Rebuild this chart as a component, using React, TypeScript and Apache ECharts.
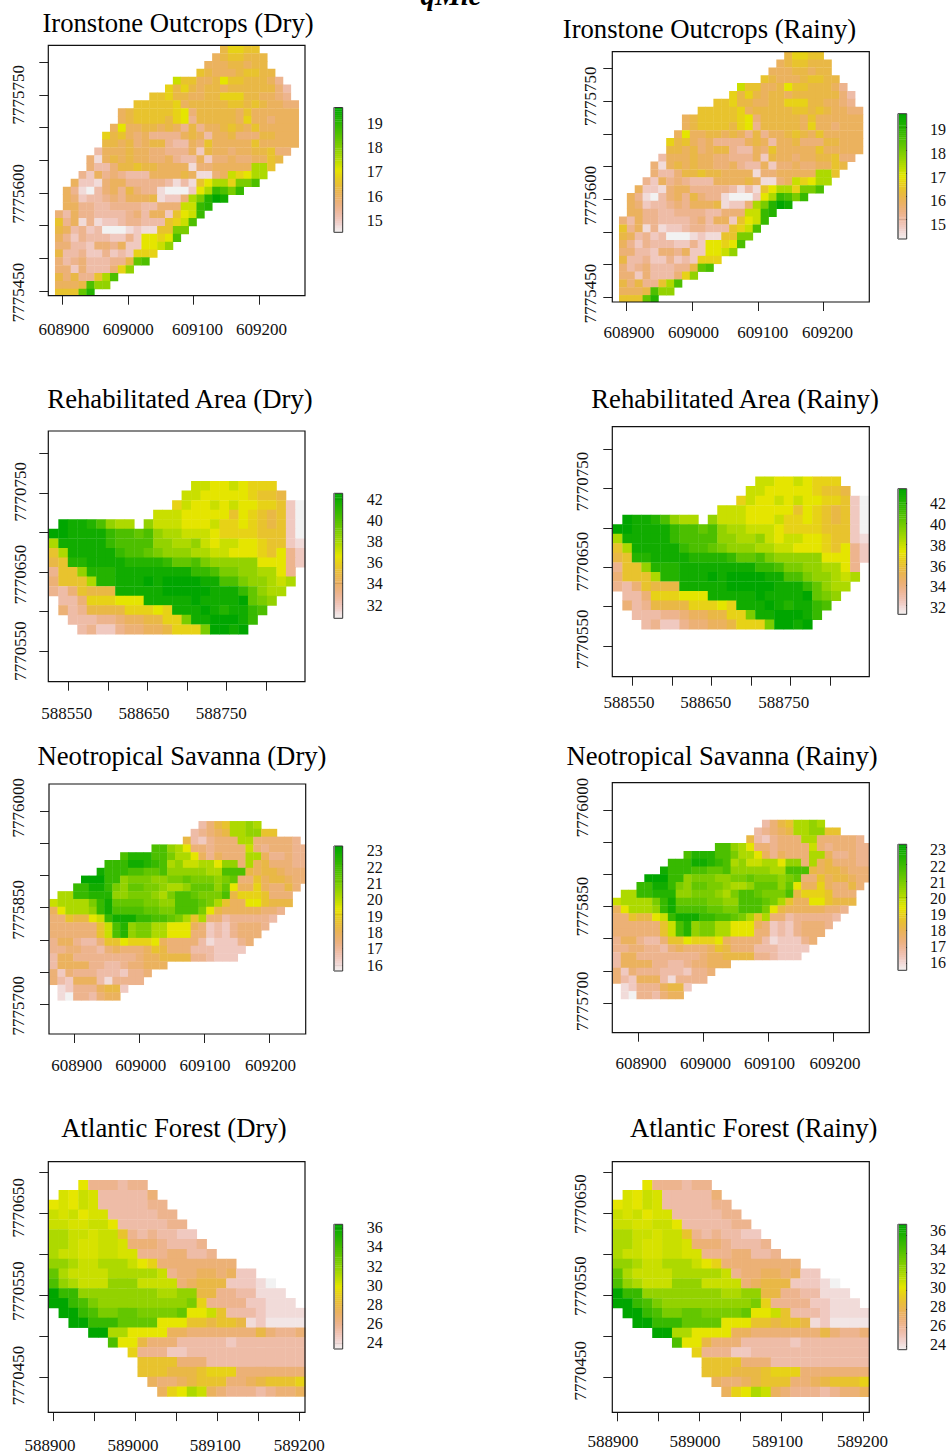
import React, { useEffect, useRef } from "react";
import * as echarts from "echarts";

// Cell values. Each row: "<first column> <one code per cell>", top row first.
// A code is a position on the legend ramp, 0..9 then a..k = 0%..100% of the legend range
// (x = 52.5%, y = 2.5%); "." is no data.
const ironstoneRows = [
  "21 79988", "20 6788777", "19 66677677", "18 8766678877", "15 b88667a8877764",
  "14 9797677677777753", "12 889776677999776654", "10 888889677777887876655",
  "8 67888889a57777768666666", "8 67888879a47777769665666", "7 6a6677676474667876866666",
  "6 9786564444676366755577666", "6 7767567743365866666866666", "5 3666766554446276656677855",
  "4 5167676655643362556556687", "4 533577877666615566666cc8", "3 4264543336666761156b9acc",
  "2 62215664444431318acc9eeg", "1 64103564754410002achgeh", "1 6523345466671225ceikj",
  "1 664433444433555bbhi", "0 5364433334536628abh", "0 8461412234433389bg",
  "0 763423000121188ee", "0 64243332242aa9ag", "0 55332554622aabd", "0 7334224232999",
  "0 5345333447fg", "0 552533359d", "0 757448cg", "0 6667gdd", "0 888fi",
];
const rehabRows = [
  "15 bbaaba999", "14 bbaaaaa9887", "13 9baababaa99820", "11 bbbaaaaa8a987820",
  "1 kjjigdcc.dbbbaaab99a987820", "0 kkjjjjhggfgdccbbba999988820", "0 cjjjjjhggggddccdbabbaa98821",
  "0 8cjjjjjhggfedddccbbaaa98a42", "0 78iijjjjiiiihffgedddddaaa42", "0 488diiijjjjjjjjhhgeeddcca4",
  "0 5888ciijjjkjkkkkjjggeddcbc", "0 4358777jjjjjkkkkkjjjhfdcc", "1 335999aaajjjjjkjjjjkfed",
  "1 5347777999a9jjjkjijjhg", "2 333445667799ejjkkkjh", "3 3422455667999ekkjk",
];
const savannaRows = [
  "19 3578ccdc", "18 34567ccdd88", "17 7324555cc555554", "13 ggdca5545555b5455544",
  "9 giiiggecca646555cc644544", "7 hhhjjihgcdbbccadd5c6755544", "6 jhhhggffgdddddccggg76776555",
  "4 kkkhhdeeeddeefeeedef558677655", "3 hhjjhedffeedccdfffdfa66965575",
  "1 cchhiiiddeeedceggfeeeg79998555", "0 bccccehjffffeeddgggfec866aa8777",
  "0 6acccdhjggggffeegggea766666554", "0 55877abhjjjhhggfec8c553444443",
  "0 5555558bgideeccaaa6523245554", "0 5555558bgideeccaaa552324555", "0 466433588a999a655553122245",
  "0 4455443565556875553332222", "0 366444444445667777443222", "0 366664433455666",
  "0 5254443332445", "0 532666314444", "1 124446772", "1 10443566",
];
const forestRows = [
  "3 a444344", "1 xabx333335", "0 axabx3333344", "0 bxbaxx3333344", "0 bbxxbba3333344",
  "0 ccbbxbb84343322", "0 ccbxxbbx55543334", "0 cbbxxbbxx44455334", "0 ddcbbcccba955555555",
  "0 fcbbbbcccccb455665622", "0 gdcbbbdddbbbb5677722210", "0 khhddddddddccdd774433111",
  "0 kkhgeddddddddde9444422111", "1 kkhgeeffeeeefaab833321111", "2 kkhhhffffaaa88788712yyyy",
  "4 kkccaaaa66555555575445", "6 gaa75553333323333333", "8 944422333333333333",
  "9 88885553333333333", "9 88877789995555555", "10 6556788855678889", "11 69acb6544434556",
];

const ironstoneXTicks = [608900, 609000, 609100, 609200];
const ironstoneYTicks = [7775450, 7775500, 7775550, 7775600, 7775650, 7775700, 7775750, 7775800];
const ironstoneYLabels = [7775450, 7775600, 7775750];
const rehabXTicks = [588550, 588600, 588650, 588700, 588750, 588800];
const rehabXLabels = [588550, 588650, 588750];
const rehabYTicks = [7770550, 7770600, 7770650, 7770700, 7770750, 7770800];
const rehabYLabels = [7770550, 7770650, 7770750];
const savannaXTicks = [608900, 609000, 609100, 609200];
const savannaYTicks = [7775700, 7775750, 7775800, 7775850, 7775900, 7775950, 7776000];
const savannaYLabels = [7775700, 7775850, 7776000];
const forestXTicks = [588900, 588950, 589000, 589050, 589100, 589150, 589200];
const forestXLabels = [588900, 589000, 589100, 589200];
const forestYTicks = [7770450, 7770500, 7770550, 7770600, 7770650, 7770700];
const forestYLabels = [7770450, 7770550, 7770650];

const ironstoneLegend = [15, 16, 17, 18, 19];
const rehabLegend = [32, 34, 36, 38, 40, 42];
const savannaLegend = [16, 17, 18, 19, 20, 21, 22, 23];
const forestLegend = [24, 26, 28, 30, 32, 34, 36];

const FONT = "Liberation Serif";
const CODES = "0123456789abcdefghijk";
const level = (ch: string) => (ch === "x" ? 10.5 / 20 : ch === "y" ? 0.5 / 20 : CODES.indexOf(ch) / 20);

function hsv(h: number, s: number, v: number) {
  const i = Math.floor(h / 60) % 6;
  const f = h / 60 - Math.floor(h / 60);
  const p = v * (1 - s), q = v * (1 - s * f), t = v * (1 - s * (1 - f));
  const [r, g, b] = [[v, t, p], [q, v, p], [p, v, t], [p, q, v], [t, p, v], [v, p, q]][i];
  return `rgb(${Math.round(r * 255)},${Math.round(g * 255)},${Math.round(b * 255)})`;
}
// R's terrain.colors, reversed: pale pink -> tan -> yellow -> green
function ramp(t: number) {
  const c = Math.max(0, Math.min(1, t));
  if (c >= 0.5) {
    const u = (c - 0.5) * 2;
    return hsv(60 + 60 * u, 1, 0.9 - 0.25 * u);
  }
  const u = c * 2;
  return hsv(60 * u, u, 0.95 - 0.05 * u);
}

const sites = {
  ironstone: {
    rows: ironstoneRows, x: [608878, 609270], y: [7775443, 7775825.6], x0: 608888.2, yTop: 7775825.6, cx: 12, cy: 12,
    xTicks: ironstoneXTicks, xLabels: ironstoneXTicks, yTicks: ironstoneYTicks, yLabels: ironstoneYLabels, legend: ironstoneLegend,
  },
  rehab: {
    rows: rehabRows, x: [588524.7, 588849.6], y: [7770511, 7770828.3], x0: 588525.4, yTop: 7770765, cx: 12, cy: 12.1,
    xTicks: rehabXTicks, xLabels: rehabXLabels, yTicks: rehabYTicks, yLabels: rehabYLabels, legend: rehabLegend,
  },
  savanna: {
    rows: savannaRows, x: [608860.5, 609255.4], y: [7775654, 7776042], x0: 608861.5, yTop: 7775984.5, cx: 12.05, cy: 12.09,
    xTicks: savannaXTicks, xLabels: savannaXTicks, yTicks: savannaYTicks, yLabels: savannaYLabels, legend: savannaLegend,
  },
  forest: {
    rows: forestRows, x: [588893.9, 589207], y: [7770406.8, 7770713.5], x0: 588894.4, yTop: 7770691, cx: 12.03, cy: 12.04,
    xTicks: forestXTicks, xLabels: forestXLabels, yTicks: forestYTicks, yLabels: forestYLabels, legend: forestLegend,
  },
};

// xs, ys: how far each axis label sits from its tick in the reference, in pixels
const panels = [
  { title: "Ironstone Outcrops (Dry)", site: sites.ironstone, box: [48.3, 45.3, 256.7, 250.4], tx: 178, ty: 23, ym: 21.8, xm: 25.3,
    bar: [334, 107.5, 8.7, 124.8], range: [14.19, 19.53], shift: [4, 6.7], xs: [1.3, 0, 3.7, 2.4], ys: [1.3, 0.7, 0] },
  { title: "Ironstone Outcrops (Rainy)", site: sites.ironstone, box: [612.3, 51.7, 257, 250.3], tx: 709.5, ty: 29.3, ym: 13.8, xm: 21.5,
    bar: [898, 113.7, 8.7, 125.3], range: [14.13, 19.59], shift: [2.7, 5.3], xs: [2.3, 1.3, 5, 4], ys: [-4, -3.7, -5] },
  { title: "Rehabilitated Area (Dry)", site: sites.rehab, box: [48.3, 431, 256.7, 250.7], tx: 180, ty: 399.3, ym: 19.1, xm: 22.8,
    bar: [334, 493.3, 8.7, 125], range: [30.64, 42.57], shift: [0, 1], xs: [-1.6, -3.4, -5], ys: [0, 2.7, -1] },
  { title: "Rehabilitated Area (Rainy)", site: sites.rehab, box: [612.3, 426.7, 257, 250], tx: 735, ty: 399.3, ym: 21.8, xm: 17.5,
    bar: [898, 488.7, 8.7, 125.6], range: [31.16, 43.4], shift: [0.7, 2], xs: [-3.3, -5.7, -6.7], ys: [-6.7, -5.7, -7] },
  { title: "Neotropical Savanna (Dry)", site: sites.savanna, box: [49, 784, 256.7, 250], tx: 182, ty: 755.7, ym: 22.5, xm: 22.5,
    bar: [334, 846, 8.7, 125], range: [15.66, 23.06], shift: [3.7, 0], xs: [2, 1, 0.4, 0.7], ys: [1.3, 2, -3.3] },
  { title: "Neotropical Savanna (Rainy)", site: sites.savanna, box: [612.3, 782.7, 257, 250], tx: 722, ty: 755.7, ym: 21.8, xm: 22.1,
    bar: [898, 844.3, 8.7, 126], range: [15.6, 23.2], shift: [2.3, -1], xs: [3, 2.4, 1.3, 1.7], ys: [-1.7, 0, -2.3] },
  { title: "Atlantic Forest (Dry)", site: sites.forest, box: [48.3, 1161.7, 256.7, 250.6], tx: 174, ty: 1128.3, ym: 21.8, xm: 24.9,
    bar: [334, 1224.3, 8.7, 124.7], range: [23.4, 36.42], shift: [-0.7, -0.3], xs: [-3.3, -2.4, -2, 0], ys: [-1.3, -4.3, -5.7] },
  { title: "Atlantic Forest (Rainy)", site: sites.forest, box: [612.3, 1161.7, 257, 250.6], tx: 753.7, ty: 1128.3, ym: 23, xm: 20.2,
    bar: [898, 1224.3, 8.7, 125.4], range: [23.63, 37.15], shift: [-4.3, -1.3], xs: [-4.3, -4.3, -4, -1], ys: [-6.3, -9.3, -9.7] },
];

function decode(site: any, range: number[]) {
  const out: number[][] = [];
  site.rows.forEach((row: string, r: number) => {
    const [start, codes] = row.split(" ");
    Array.from(codes).forEach((ch, i) => {
      if (ch === ".") return;
      out.push([site.x0 + (Number(start) + i) * site.cx, site.yTop - (r + 1) * site.cy, range[0] + (range[1] - range[0]) * level(ch)]);
    });
  });
  return out;
}

function buildOption() {
  const grid: any[] = [], xAxis: any[] = [], yAxis: any[] = [], series: any[] = [], graphic: any[] = [];
  const title: any[] = [
    { text: "qMic", left: 451, top: -20, textAlign: "center", padding: 0,
      textStyle: { fontFamily: FONT, fontSize: 29, fontWeight: "bold", fontStyle: "italic", color: "#000" } },
  ];
  const labelStyle = { fontFamily: FONT, color: "#111", fontSize: 17 };
  const tick = { show: true, length: 9, lineStyle: { color: "#222", width: 1 } };

  panels.forEach((p, idx) => {
    const s = p.site;
    const nearest = (v: number) => String(Math.round(v / 50) * 50);
    const perX = p.box[2] / (s.x[1] - s.x[0]);
    const perY = p.box[3] / (s.y[1] - s.y[0]);
    title.push({ text: p.title, left: p.tx, top: p.ty - 13.5, textAlign: "center", padding: 0,
      textStyle: { fontFamily: FONT, fontSize: 26.7, fontWeight: "normal", color: "#000" } });

    // map panel
    const g = idx * 2;
    grid.push({ left: p.box[0], top: p.box[1], width: p.box[2], height: p.box[3] });
    xAxis.push({ gridIndex: g, type: "value", min: s.x[0], max: s.x[1], splitLine: { show: false },
      axisLine: { show: false }, axisTick: { ...tick, customValues: s.xTicks },
      axisLabel: { ...labelStyle, margin: p.xm, formatter: nearest,
        customValues: s.xLabels.map((v: number, i: number) => v + p.xs[i] / perX) } });
    yAxis.push({ gridIndex: g, type: "value", min: s.y[0], max: s.y[1], splitLine: { show: false },
      axisLine: { show: false }, axisTick: { ...tick, customValues: s.yTicks },
      axisLabel: { ...labelStyle, rotate: 90, margin: p.ym, formatter: nearest,
        customValues: s.yLabels.map((v: number, i: number) => v - p.ys[i] / perY) } });
    series.push({
      type: "custom", xAxisIndex: g, yAxisIndex: g, clip: true, silent: true, coordinateSystem: "cartesian2d",
      data: decode(s, p.range), encode: { x: 0, y: 1 },
      renderItem: (_: any, api: any) => {
        const x = api.value(0), y = api.value(1), v = api.value(2);
        const a = api.coord([x, y + s.cy]);
        const b = api.coord([x + s.cx, y]);
        return { type: "rect", shape: { x: a[0], y: a[1], width: b[0] - a[0] + 0.4, height: b[1] - a[1] + 0.4 },
          style: { fill: ramp((v - p.range[0]) / (p.range[1] - p.range[0])), stroke: null } };
      },
    });
    graphic.push({ type: "rect", silent: true, z: 50, shape: { x: p.box[0], y: p.box[1], width: p.box[2], height: p.box[3] },
      style: { fill: "transparent", stroke: "#111", lineWidth: 1.2 } });

    // colour bar
    const h = g + 1;
    const [rMin, rMax] = p.range;
    const pxPerUnit = p.bar[3] / (rMax - rMin);
    const legend = s.legend;
    const lo = legend[0], hi = legend[legend.length - 1];
    const shifted = legend.map((v: number) => {
      const f = (hi - v) / (hi - lo);
      return v - (p.shift[0] + (p.shift[1] - p.shift[0]) * f) / pxPerUnit;
    });
    const barSteps = 64;
    const barData: number[][] = [];
    for (let i = 0; i < barSteps; i++) barData.push([0, rMin + ((rMax - rMin) * i) / barSteps]);
    grid.push({ left: p.bar[0], top: p.bar[1], width: p.bar[2], height: p.bar[3] });
    xAxis.push({ gridIndex: h, type: "value", min: 0, max: 1, show: false });
    yAxis.push({ gridIndex: h, type: "value", position: "right", min: rMin, max: rMax, splitLine: { show: false },
      axisLine: { show: false }, axisTick: { ...tick, customValues: legend },
      axisLabel: { fontFamily: FONT, color: "#111", fontSize: 16, margin: 24, customValues: shifted,
        formatter: (v: number) => String(Math.round(v)) } });
    series.push({
      type: "custom", xAxisIndex: h, yAxisIndex: h, clip: true, silent: true, coordinateSystem: "cartesian2d",
      data: barData, encode: { x: 0, y: 1 },
      renderItem: (_: any, api: any) => {
        const y = api.value(1);
        const step = (rMax - rMin) / barSteps;
        const a = api.coord([0, y + step]);
        const b = api.coord([1, y]);
        return { type: "rect", shape: { x: a[0], y: a[1], width: b[0] - a[0], height: b[1] - a[1] + 0.4 },
          style: { fill: ramp((y + step / 2 - rMin) / (rMax - rMin)), stroke: null } };
      },
    });
    graphic.push({ type: "rect", silent: true, z: 50, shape: { x: p.bar[0], y: p.bar[1], width: p.bar[2], height: p.bar[3] },
      style: { fill: "transparent", stroke: "#333", lineWidth: 1 } });
    graphic.push({ type: "rect", silent: true, z: 51, shape: { x: p.bar[0] - 0.8, y: p.bar[1], width: 1.8, height: p.bar[3] },
      style: { fill: "#808080", stroke: null } });
  });

  return { animation: false, backgroundColor: "#fff", title, grid, xAxis, yAxis, series, graphic };
}

export default function App() {
  const ref = useRef<HTMLDivElement>(null);
  useEffect(() => {
    const chart = echarts.init(ref.current!, undefined, { renderer: "svg" });
    chart.setOption(buildOption());
    return () => chart.dispose();
  }, []);
  return <div ref={ref} style={{ position: "absolute", left: 0, top: 0, width: 949, height: 1454 }} />;
}
